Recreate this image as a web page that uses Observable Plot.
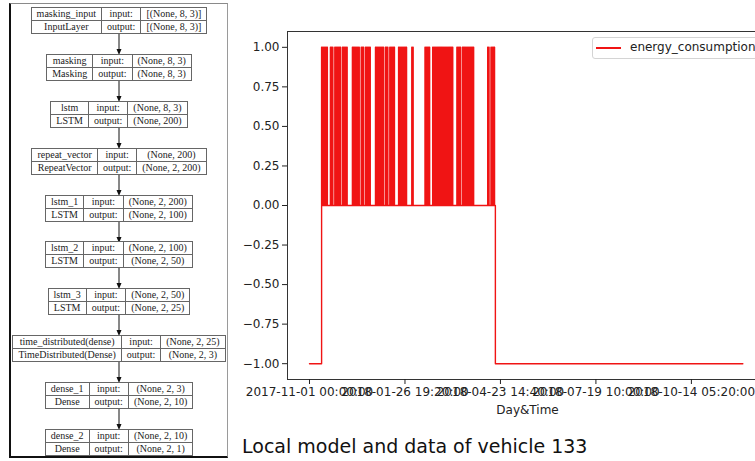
<!DOCTYPE html>
<html>
<head>
<meta charset="utf-8">
<script src="https://cdn.jsdelivr.net/npm/d3@7"></script>
<script src="https://cdn.jsdelivr.net/npm/@observablehq/plot@0.6"></script>
<style>
  html, body { margin: 0; padding: 0; background: #fff; }
  #root { position: relative; width: 755px; height: 461px; overflow: hidden; background: #fff; }
  #diagram {
    position: absolute; left: 9px; top: 3px; width: 219px; height: 455px;
    border-left: 2.5px solid #111; border-bottom: 2.5px solid #111;
    border-top: 1px solid #8a8a8a; border-right: 1px solid #9a9a9a;
    box-sizing: border-box; padding-top: 3px;
    display: flex; flex-direction: column; align-items: center;
    font-family: "Liberation Serif", "Times New Roman", serif; font-size: 10px; color: #222;
  }
  #diagram table { border-collapse: collapse; border: 1px solid #666; font-family: "Liberation Serif", "Times New Roman", serif; font-size: 10px; }
  #diagram td { border: 1px solid #666; padding: 0 5px; height: 12px; line-height: 12px; text-align: center; white-space: nowrap;
    font-family: "Liberation Serif", "Times New Roman", serif; font-size: 10px; color: #222; }
  #diagram svg { display: block; }
  #chart { position: absolute; left: 236px; top: 0; width: 540px; height: 420px; }
  #chart svg { max-width: none !important; }
  #legend {
    position: absolute; left: 592px; top: 37px; width: 180px; height: 22px;
    border: 1px solid #d4d4d4; border-radius: 3px; background: #fff; box-sizing: border-box;
    font-family: "DejaVu Sans", sans-serif; font-size: 12px; color: #222;
  }
  #legend .sw { position: absolute; left: 3px; top: 9px; width: 25px; height: 2px; background: #f01414; }
  #legend .tx { position: absolute; left: 37px; top: 2px; line-height: 15px; white-space: nowrap; }
  #caption {
    position: absolute; left: 242px; top: 437px; font-family: "DejaVu Sans", sans-serif;
    font-size: 19px; line-height: 19px; color: #111; white-space: nowrap;
  }
</style>
</head>
<body>
<div id="root">
  <div id="diagram"></div>
  <div id="chart"></div>
  <div id="legend"><div class="sw"></div><div class="tx"></div></div>
  <div id="caption"></div>
</div>
<script>
// ---- Model diagram data ----
const layerNames = ["masking_input","masking","lstm","repeat_vector","lstm_1","lstm_2","lstm_3","time_distributed(dense)","dense_1","dense_2"];
const layerTypes = ["InputLayer","Masking","LSTM","RepeatVector","LSTM","LSTM","LSTM","TimeDistributed(Dense)","Dense","Dense"];
const inputShapes = ["[(None, 8, 3)]","(None, 8, 3)","(None, 8, 3)","(None, 200)","(None, 2, 200)","(None, 2, 100)","(None, 2, 50)","(None, 2, 25)","(None, 2, 3)","(None, 2, 10)"];
const outputShapes = ["[(None, 8, 3)]","(None, 8, 3)","(None, 200)","(None, 2, 200)","(None, 2, 100)","(None, 2, 50)","(None, 2, 25)","(None, 2, 3)","(None, 2, 10)","(None, 2, 1)"];

// ---- Chart data ----
const seriesName = "energy_consumption";
const seriesStart = "2017-11-01";
const seriesRise = "2017-11-12";
const seriesDrop = "2018-04-19";
const seriesEnd = "2018-11-30";
const xDomain = ["2017-10-12T00:00:00Z", "2018-12-22T10:00:00Z"];
const activeStarts = ["2017-11-12","2017-11-20","2017-11-24","2017-11-27","2017-12-01","2017-12-10","2017-12-18","2017-12-22","2017-12-31","2018-01-02","2018-01-09","2018-01-13","2018-01-21","2018-02-02","2018-02-14","2018-02-21","2018-03-02","2018-03-15","2018-03-20","2018-04-12","2018-04-15","2018-04-18"];
const activeEnds   = ["2017-11-17","2017-11-22","2017-11-26","2017-11-29","2017-12-05","2017-12-16","2017-12-20","2017-12-26","2018-01-01","2018-01-07","2018-01-11","2018-01-17","2018-01-28","2018-02-03","2018-02-18","2018-03-01","2018-03-11","2018-03-18","2018-03-30","2018-04-13","2018-04-17","2018-04-19"];
const xTickLabels = ["2017-11-01 00:00:00","2018-01-26 19:20:00","2018-04-23 14:40:00","2018-07-19 10:00:00","2018-10-14 05:20:00"];
const yTicks = [-1, -0.75, -0.5, -0.25, 0, 0.25, 0.5, 0.75, 1];
const xLabel = "Day&Time";
const captionText = "Local model and data of vehicle 133";

// ---- Diagram ----
const diagram = document.getElementById("diagram");
layerNames.forEach((name, i) => {
  if (i > 0) {
    const ns = "http://www.w3.org/2000/svg";
    const svg = document.createElementNS(ns, "svg");
    svg.setAttribute("width", 10); svg.setAttribute("height", 21);
    const ln = document.createElementNS(ns, "line");
    ln.setAttribute("x1", 5); ln.setAttribute("x2", 5); ln.setAttribute("y1", 0); ln.setAttribute("y2", 16);
    ln.setAttribute("stroke", "#111"); ln.setAttribute("stroke-width", 1);
    const tri = document.createElementNS(ns, "polygon");
    tri.setAttribute("points", "2.5,15 7.5,15 5,21"); tri.setAttribute("fill", "#111");
    svg.appendChild(ln); svg.appendChild(tri);
    diagram.appendChild(svg);
  }
  const t = document.createElement("table");
  t.innerHTML = `<tr><td>${name}</td><td>input:</td><td>${inputShapes[i]}</td></tr>` +
                `<tr><td>${layerTypes[i]}</td><td>output:</td><td>${outputShapes[i]}</td></tr>`;
  diagram.appendChild(t);
});

// ---- Series ----
const DAY = 864e5;
const toDate = s => new Date(s + "T00:00:00Z");
const blocks = activeStarts.map((s, i) => [+toDate(s), +toDate(activeEnds[i])]);
const t0 = toDate(seriesStart), tRise = toDate(seriesRise), tDrop = toDate(seriesDrop), t1 = toDate(seriesEnd);
const pts = [{t: t0, v: -1}, {t: tRise, v: -1}];
for (let t = +tRise; t < +tDrop; t += DAY) {
  const on = blocks.some(([a, b]) => t >= a && t <= b);
  if (on) {
    pts.push({t: new Date(t), v: 0}, {t: new Date(t), v: 1}, {t: new Date(t + 0.25 * DAY), v: 1}, {t: new Date(t + 0.25 * DAY), v: 0});
  } else {
    pts.push({t: new Date(t), v: 0});
  }
}
pts.push({t: tDrop, v: 0}, {t: tDrop, v: -1}, {t: t1, v: -1});

const parseTick = d3.utcParse("%Y-%m-%d %H:%M:%S");
const tickDates = xTickLabels.map(parseTick);
const labelByTime = new Map(tickDates.map((d, i) => [+d, xTickLabels[i]]));

const chart = Plot.plot({
  width: 540, height: 420,
  marginLeft: 51, marginTop: 31, marginBottom: 41, marginRight: 9,
  style: {fontFamily: "DejaVu Sans, sans-serif", fontSize: "12px", color: "#222", background: "transparent", maxWidth: "none"},
  x: {type: "utc", domain: xDomain.map(s => new Date(s))},
  y: {domain: [-1.1, 1.1]},
  marks: [
    Plot.frame({stroke: "#333", strokeWidth: 1}),
    Plot.line(pts, {x: "t", y: "v", stroke: "#f01414", strokeWidth: 1.4}),
    Plot.axisX({ticks: tickDates, tickFormat: d => labelByTime.get(+d), tickSize: 5, tickPadding: 3,
      fontSize: 12, label: xLabel, labelAnchor: "center", labelArrow: "none", labelOffset: 34}),
    Plot.axisY({ticks: yTicks, tickFormat: d => d.toFixed(2).replace("-", "\u2212"), tickSize: 5, tickPadding: 3,
      fontSize: 12, label: null})
  ]
});
document.getElementById("chart").appendChild(chart);
document.querySelector("#legend .tx").textContent = seriesName;
document.getElementById("caption").textContent = captionText;
</script>
</body>
</html>
